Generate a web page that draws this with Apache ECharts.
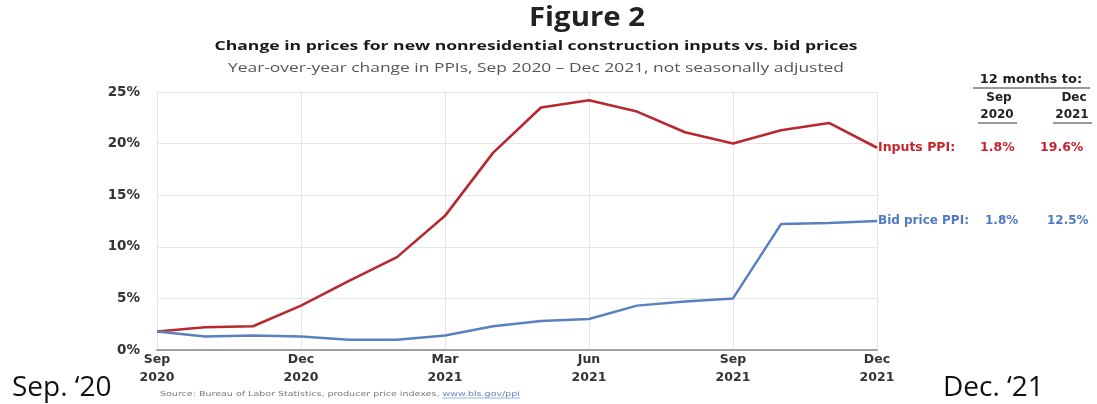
<!DOCTYPE html>
<html><head><meta charset="utf-8">
<script src="https://cdn.jsdelivr.net/npm/echarts@6/dist/echarts.min.js"></script>
<style>html,body{margin:0;padding:0;background:#fff}#c{width:1097px;height:404px}</style>
</head><body><div id="c"></div>
<script>
const months = ['Sep 2020','Oct 2020','Nov 2020','Dec 2020','Jan 2021','Feb 2021','Mar 2021','Apr 2021','May 2021','Jun 2021','Jul 2021','Aug 2021','Sep 2021','Oct 2021','Nov 2021','Dec 2021'];
const inputsPPI = [1.8, 2.2, 2.3, 4.3, 6.7, 9.0, 13.0, 19.1, 23.5, 24.2, 23.1, 21.1, 20.0, 21.3, 22.0, 19.6];
const bidPPI    = [1.8, 1.3, 1.4, 1.3, 1.0, 1.0, 1.4, 2.3, 2.8, 3.0, 4.3, 4.7, 5.0, 12.2, 12.3, 12.5];
const yTicks = [0, 5, 10, 15, 20, 25];
const seriesNames = ['Inputs PPI:', 'Bid price PPI:'];
const titleText = 'Figure 2';
const subText = 'Change in prices for new nonresidential construction inputs vs. bid prices';
const noteText = 'Year-over-year change in PPIs, Sep 2020 \u2013 Dec 2021, not seasonally adjusted';
const sourceText = 'Source: Bureau of Labor Statistics, producer price indexes, ';
const linkText = 'www.bls.gov/ppi';

const RED = '#b8282f', BLUE = '#5a80c0', LRED = '#c8232c', LBLUE = '#4f79c4';
const cv = document.createElement('canvas').getContext('2d');
function measure(text, font) { cv.font = font; return cv.measureText(text).width; }
function fit(text, font, w) { return w / measure(text, font); }

const TITF = 'bold 26px "Open Sans"', SUBF = 'bold 13px "Open Sans"', NOTEF = '12px "Open Sans"', SRCF = '7px "DejaVu Sans"';
const srcW = measure(sourceText + linkText, SRCF);
const srcScale = 360 / srcW;
const linkX = 160 + measure(sourceText, SRCF) * srcScale;

const chart = echarts.init(document.getElementById('c'));
const pct = v => v.toFixed(1) + '%';
const lab = (c, size) => ({fontFamily: 'DejaVu Sans', fontWeight: 'bold', fontSize: size, color: c});
chart.setOption({
  animation: false,
  grid: {left: 157, right: 220, top: 92, bottom: 54, containLabel: false},
  xAxis: {
    type: 'category', data: months, boundaryGap: false,
    axisLine: {lineStyle: {color: '#a0a0a0', width: 2}},
    axisTick: {show: false},
    axisLabel: {interval: 2, formatter: v => v.replace(' ', '\n'), fontFamily: 'DejaVu Sans', fontWeight: 'bold',
      fontSize: 12.5, color: '#333', lineHeight: 18, margin: 1},
    splitLine: {show: true, interval: 2, lineStyle: {color: '#e6e6e6', width: 1}}
  },
  yAxis: {
    type: 'value', min: yTicks[0], max: yTicks[yTicks.length-1], interval: 5,
    axisLine: {show: false}, axisTick: {show: false},
    axisLabel: {formatter: '{value}%', fontFamily: 'DejaVu Sans', fontWeight: 'bold', fontSize: 13.5, color: '#333', margin: 17},
    splitLine: {lineStyle: {color: '#e6e6e6', width: 1}}
  },
  series: [
    {name: seriesNames[0], type: 'line', data: inputsPPI, showSymbol: false, lineStyle: {color: RED, width: 2.6}, itemStyle: {color: RED},
     endLabel: {show: true, distance: 1, formatter: () => '{n|' + seriesNames[0] + '}{a|' + pct(inputsPPI[0]) + '}{b|' + pct(inputsPPI[inputsPPI.length-1]) + '}',
       rich: {n: Object.assign({width: 102}, lab(LRED, 12.5)), a: Object.assign({width: 60}, lab(LRED, 12.5)), b: lab(LRED, 12.5)}}},
    {name: seriesNames[1], type: 'line', data: bidPPI, showSymbol: false, lineStyle: {color: BLUE, width: 2.5}, itemStyle: {color: BLUE},
     endLabel: {show: true, distance: 1, formatter: () => '{n|' + seriesNames[1] + '}{a|' + pct(bidPPI[0]) + '}{b|' + pct(bidPPI[bidPPI.length-1]) + '}',
       rich: {n: Object.assign({width: 107}, lab(LBLUE, 12)), a: Object.assign({width: 62}, lab(LBLUE, 12)), b: lab(LBLUE, 12)}}}
  ],
  graphic: [
    {type: 'text', x: 587, y: 19, scaleX: fit(titleText, TITF, 116), style: {text: titleText, textAlign: 'center', textVerticalAlign: 'middle', font: TITF, fill: '#222'}},
    {type: 'text', x: 536, y: 46, scaleX: fit(subText, SUBF, 643), style: {text: subText, textAlign: 'center', textVerticalAlign: 'middle', font: SUBF, fill: '#1a1a1a'}},
    {type: 'text', x: 536, y: 69, scaleX: fit(noteText, NOTEF, 616), style: {text: noteText, textAlign: 'center', textVerticalAlign: 'middle', font: NOTEF, fill: '#555'}},
    {type: 'text', x: 1031, y: 80, style: {text: '12 months to:', textAlign: 'center', textVerticalAlign: 'middle', font: 'bold 13px "DejaVu Sans"', fill: '#222'}},
    {type: 'line', shape: {x1: 973, y1: 88, x2: 1090, y2: 88}, style: {stroke: '#333', lineWidth: 1}},
    {type: 'text', x: 999, y: 98, style: {text: 'Sep', textAlign: 'center', textVerticalAlign: 'middle', font: 'bold 12px "DejaVu Sans"', fill: '#222'}},
    {type: 'text', x: 1074, y: 98, style: {text: 'Dec', textAlign: 'center', textVerticalAlign: 'middle', font: 'bold 12px "DejaVu Sans"', fill: '#222'}},
    {type: 'text', x: 997, y: 115, style: {text: '2020', textAlign: 'center', textVerticalAlign: 'middle', font: 'bold 12px "DejaVu Sans"', fill: '#222'}},
    {type: 'text', x: 1072, y: 115, style: {text: '2021', textAlign: 'center', textVerticalAlign: 'middle', font: 'bold 12px "DejaVu Sans"', fill: '#222'}},
    {type: 'line', shape: {x1: 978, y1: 123, x2: 1017, y2: 123}, style: {stroke: '#333', lineWidth: 1}},
    {type: 'line', shape: {x1: 1053, y1: 123, x2: 1092, y2: 123}, style: {stroke: '#333', lineWidth: 1}},
    {type: 'text', x: 12, y: 388, style: {text: 'Sep. \u201820', textVerticalAlign: 'middle', font: '28px "Open Sans"', fill: '#111'}},
    {type: 'text', x: 943, y: 388, style: {text: 'Dec. \u201821', textVerticalAlign: 'middle', font: '28px "Open Sans"', fill: '#111'}},
    {type: 'text', x: 160, y: 394, scaleX: srcScale, style: {text: sourceText, textVerticalAlign: 'middle', font: SRCF, fill: '#777'}},
    {type: 'text', x: linkX, y: 394, scaleX: srcScale, style: {text: linkText, textVerticalAlign: 'middle', font: SRCF, fill: '#5a80c0'}},
    {type: 'line', shape: {x1: linkX, y1: 398, x2: 520, y2: 398}, style: {stroke: '#7f9fd4', lineWidth: 0.8}}
  ]
});
</script></body></html>
